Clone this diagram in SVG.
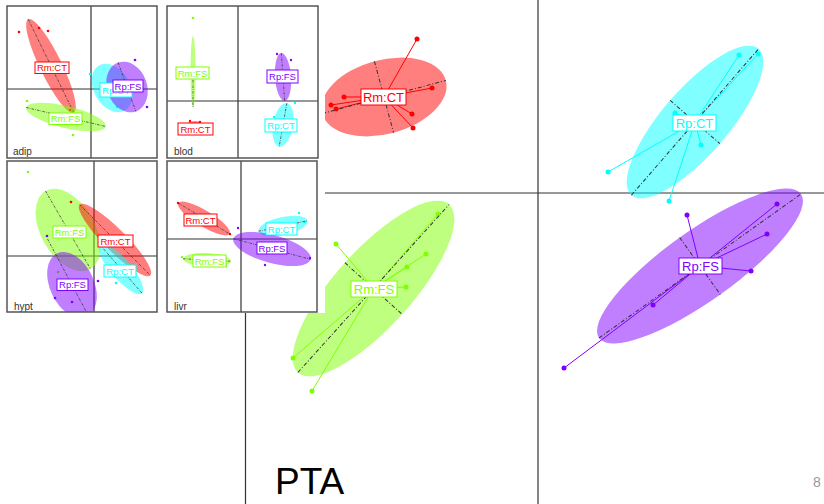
<svg xmlns="http://www.w3.org/2000/svg" width="824" height="504" viewBox="0 0 824 504">
<style>
text{font-family:"Liberation Sans",Arial,sans-serif}
.ax{stroke:#333;stroke-width:1.2;fill:none}
.fr{stroke:#555;stroke-width:1.5;fill:none}
.da{stroke:#333;stroke-width:1;stroke-dasharray:4 2 1 2;fill:none}
.dai{stroke:#333;stroke-width:0.7;stroke-dasharray:2.5 1.2 0.7 1.2;fill:none}
.r .e{fill:#FF0000;fill-opacity:.5}.r .s{stroke:#FF0000}.r .p{fill:#FF0000}.r .b{stroke:#FF0000}.r text{fill:#FF0000}
.g .e{fill:#80FF00;fill-opacity:.5}.g .s{stroke:#80FF00}.g .p{fill:#80FF00}.g .b{stroke:#80FF00}.g text{fill:#80FF00}
.c .e{fill:#00FFFF;fill-opacity:.5}.c .s{stroke:#00FFFF}.c .p{fill:#00FFFF}.c .b{stroke:#00FFFF}.c text{fill:#00FFFF}
.v .e{fill:#8000FF;fill-opacity:.5}.v .s{stroke:#8000FF}.v .p{fill:#8000FF}.v .b{stroke:#8000FF}.v text{fill:#8000FF}
.s{stroke-width:1}
.si{stroke-width:0.7}
.b{fill:#fff;stroke-width:1}
.lm{font-size:13px;text-anchor:middle}
.li{font-size:9.5px;text-anchor:middle}
.pn{font-size:10px;fill:#333}
</style>
<defs>
<clipPath id="c1"><rect x="7" y="6" width="150" height="152"/></clipPath>
<clipPath id="c2"><rect x="167" y="6" width="151" height="152"/></clipPath>
<clipPath id="c3"><rect x="7" y="161" width="150" height="151"/></clipPath>
<clipPath id="c4"><rect x="167" y="161" width="150" height="151"/></clipPath>
</defs>
<rect width="824" height="504" fill="#fff"/>

<!-- main plot -->
<g id="main-axes">
<line class="ax" x1="245.5" y1="0" x2="245.5" y2="504"/>
<line class="ax" x1="538" y1="0" x2="538" y2="504"/>
<line class="ax" x1="245" y1="193" x2="824" y2="193"/>
</g>

<g id="main-RmCT" class="r">
<ellipse class="e" transform="translate(384,97) rotate(-15)" rx="64" ry="37"/>
<g class="s">
<line x1="384" y1="97" x2="417" y2="39"/><line x1="384" y1="97" x2="432" y2="88"/>
<line x1="384" y1="97" x2="344" y2="97"/><line x1="384" y1="97" x2="331" y2="105"/>
<line x1="384" y1="97" x2="336" y2="109"/><line x1="384" y1="97" x2="412" y2="114"/>
<line x1="384" y1="97" x2="413" y2="128"/>
</g>
<g class="p">
<circle cx="417" cy="39" r="2.5"/><circle cx="432" cy="88" r="2.5"/><circle cx="344" cy="97" r="2.5"/>
<circle cx="331" cy="105" r="2.5"/><circle cx="336" cy="109" r="2.5"/><circle cx="412" cy="114" r="2.5"/>
<circle cx="413" cy="128" r="2.5"/>
</g>
<g transform="translate(384,97) rotate(-15)"><line class="da" x1="-64" y1="0" x2="64" y2="0"/><line class="da" x1="0" y1="-37" x2="0" y2="37"/></g>
<rect class="b" x="361" y="89" width="45" height="16"/>
<text class="lm" x="383.5" y="101.5">Rm:CT</text>
</g>

<g id="main-RpCT" class="c">
<ellipse class="e" transform="translate(695,122) rotate(-49)" rx="97" ry="33"/>
<g class="s">
<line x1="695" y1="122" x2="739" y2="55"/><line x1="695" y1="122" x2="758" y2="54"/>
<line x1="695" y1="122" x2="675" y2="113"/><line x1="695" y1="122" x2="701" y2="145"/>
<line x1="695" y1="122" x2="608" y2="172"/><line x1="695" y1="122" x2="669" y2="201"/>
</g>
<g class="p">
<circle cx="739" cy="55" r="2.5"/><circle cx="758" cy="54" r="2.5"/><circle cx="675" cy="113" r="2.5"/>
<circle cx="701" cy="145" r="2.5"/><circle cx="608" cy="172" r="2.5"/><circle cx="669" cy="201" r="2.5"/>
</g>
<g transform="translate(695,122) rotate(-49)"><line class="da" x1="-97" y1="0" x2="97" y2="0"/><line class="da" x1="0" y1="-33" x2="0" y2="33"/></g>
<rect class="b" x="673" y="115" width="43" height="16"/>
<text class="lm" x="694.5" y="127.5">Rp:CT</text>
</g>

<g id="main-RpFS" class="v">
<ellipse class="e" transform="translate(700,266) rotate(-35.5)" rx="124" ry="35"/>
<g class="s">
<line x1="700" y1="266" x2="777" y2="204"/><line x1="700" y1="266" x2="767" y2="234"/>
<line x1="700" y1="266" x2="687" y2="215"/><line x1="700" y1="266" x2="751" y2="271"/>
<line x1="700" y1="266" x2="653" y2="305"/><line x1="700" y1="266" x2="564" y2="368"/>
</g>
<g class="p">
<circle cx="777" cy="204" r="2.5"/><circle cx="767" cy="234" r="2.5"/><circle cx="687" cy="215" r="2.5"/>
<circle cx="751" cy="271" r="2.5"/><circle cx="653" cy="305" r="2.5"/><circle cx="564" cy="368" r="2.5"/>
</g>
<g transform="translate(700,266) rotate(-35.5)"><line class="da" x1="-124" y1="0" x2="124" y2="0"/><line class="da" x1="0" y1="-35" x2="0" y2="35"/></g>
<rect class="b" x="679" y="258" width="43" height="16"/>
<text class="lm" x="700.5" y="270.5">Rp:FS</text>
</g>

<g id="main-RmFS" class="g">
<ellipse class="e" transform="translate(373.5,288.5) rotate(-48)" rx="113" ry="38.5"/>
<g class="s">
<line x1="373.5" y1="288.5" x2="438" y2="214"/><line x1="373.5" y1="288.5" x2="426" y2="254"/>
<line x1="373.5" y1="288.5" x2="407" y2="267"/><line x1="373.5" y1="288.5" x2="406" y2="287"/>
<line x1="373.5" y1="288.5" x2="336" y2="244"/><line x1="373.5" y1="288.5" x2="293" y2="358"/>
<line x1="373.5" y1="288.5" x2="312" y2="391"/>
</g>
<g class="p">
<circle cx="438" cy="214" r="2.5"/><circle cx="426" cy="254" r="2.5"/><circle cx="407" cy="267" r="2.5"/>
<circle cx="406" cy="287" r="2.5"/><circle cx="336" cy="244" r="2.5"/><circle cx="293" cy="358" r="2.5"/>
<circle cx="312" cy="391" r="2.5"/>
</g>
<g transform="translate(373.5,288.5) rotate(-48)"><line class="da" x1="-113" y1="0" x2="113" y2="0"/><line class="da" x1="0" y1="-38.5" x2="0" y2="38.5"/></g>
<rect class="b" x="351" y="281" width="46" height="16"/>
<text class="lm" x="374" y="293.5">Rm:FS</text>
</g>

<!-- inset area -->
<rect x="0" y="0" width="325" height="313" fill="#fff"/>

<g id="panel-adip">
<g clip-path="url(#c1)">
<line class="ax" x1="91" y1="6" x2="91" y2="158"/>
<line class="ax" x1="7" y1="89" x2="157" y2="89"/>
<g class="r">
<ellipse class="e" transform="translate(51,66) rotate(64)" rx="52" ry="11"/>
<g class="si"><line x1="52" y1="67" x2="19" y2="32"/><line x1="52" y1="67" x2="48" y2="31"/><line x1="52" y1="67" x2="39" y2="28"/><line x1="52" y1="67" x2="70" y2="110"/></g>
<g class="p"><circle cx="19" cy="32" r="1.3"/><circle cx="48" cy="31" r="1.3"/><circle cx="39" cy="28" r="1.3"/><circle cx="70" cy="110" r="1.3"/></g>
<line class="dai" transform="translate(51,66) rotate(64)" x1="-52" y1="0" x2="52" y2="0"/>
</g>
<g class="g">
<ellipse class="e" transform="translate(66,117) rotate(13.5)" rx="41" ry="11"/>
<g class="si"><line x1="66" y1="118" x2="27" y2="101"/><line x1="66" y1="118" x2="73" y2="135"/></g>
<g class="p"><circle cx="27" cy="101" r="1.3"/><circle cx="73" cy="135" r="1.3"/></g>
<line class="dai" transform="translate(66,117) rotate(13.5)" x1="-41" y1="0" x2="41" y2="0"/>
</g>
<g class="c">
<ellipse class="e" transform="translate(112,88) rotate(60)" rx="26" ry="18"/>
<g class="si"><line x1="116" y1="90" x2="90" y2="74"/><line x1="116" y1="90" x2="117" y2="107"/></g>
<g class="p"><circle cx="90" cy="74" r="1.3"/><circle cx="117" cy="107" r="1.3"/></g>
</g>
<g class="v">
<ellipse class="e" transform="translate(127,87) rotate(70)" rx="26" ry="20"/>
<g class="si"><line x1="128" y1="86" x2="135" y2="60"/><line x1="128" y1="86" x2="147" y2="107"/></g>
<g class="p"><circle cx="135" cy="60" r="1.3"/><circle cx="147" cy="107" r="1.3"/></g>
<line class="dai" transform="translate(127,87) rotate(70)" x1="-26" y1="0" x2="26" y2="0"/>
</g>
<g class="r"><rect class="b" x="35" y="62" width="34" height="11.5"/><text class="li" x="52" y="71.3">Rm:CT</text></g>
<g class="g"><rect class="b" x="49" y="113" width="33" height="11.5"/><text class="li" x="65.5" y="122.3">Rm:FS</text></g>
<g class="c"><rect class="b" x="100" y="83" width="32" height="14"/><text class="li" x="116" y="93.5">Rp:CT</text></g>
<g class="v"><rect class="b" x="113" y="80" width="30" height="12"/><text class="li" x="128" y="89.5">Rp:FS</text></g>
<text class="pn" x="13" y="155">adip</text>
</g>
<rect class="fr" x="7" y="6" width="150" height="152"/>
</g>

<g id="panel-blod">
<g clip-path="url(#c2)">
<line class="ax" x1="238" y1="6" x2="238" y2="158"/>
<line class="ax" x1="167" y1="101" x2="318" y2="101"/>
<g class="g">
<ellipse class="e" cx="193" cy="72" rx="2.5" ry="36"/>
<g class="si"><line x1="193" y1="73" x2="193" y2="18"/></g>
<g class="p"><circle cx="193" cy="18" r="1.3"/></g>
<line class="dai" x1="193" y1="80" x2="193" y2="108"/>
</g>
<g class="r">
<ellipse class="e" cx="195" cy="127" rx="10" ry="6"/>
<g class="p"><circle cx="190" cy="121" r="1.2"/><circle cx="200" cy="122" r="1.2"/><circle cx="203" cy="133" r="1.2"/></g>
</g>
<g class="v">
<ellipse class="e" transform="translate(283,77) rotate(-4)" rx="8" ry="24"/>
<g class="si"><line x1="283" y1="77" x2="277" y2="54"/><line x1="283" y1="77" x2="291" y2="60"/></g>
<g class="p"><circle cx="277" cy="54" r="1.2"/><circle cx="291" cy="60" r="1.2"/></g>
<line class="dai" transform="translate(283,77) rotate(-4)" x1="0" y1="-24" x2="0" y2="24"/>
</g>
<g class="c">
<ellipse class="e" transform="translate(283,125) rotate(10)" rx="10" ry="22"/>
<g class="si"><line x1="283" y1="125" x2="295" y2="103"/><line x1="283" y1="125" x2="274" y2="117"/></g>
<g class="p"><circle cx="295" cy="103" r="1.2"/><circle cx="274" cy="117" r="1.2"/></g>
<line class="dai" transform="translate(283,125) rotate(10)" x1="0" y1="-22" x2="0" y2="22"/>
</g>
<g class="g"><rect class="b" x="176" y="67" width="33" height="12"/><text class="li" x="192.5" y="76.5">Rm:FS</text></g>
<g class="r"><rect class="b" x="178" y="123" width="35" height="12"/><text class="li" x="195.5" y="132.5">Rm:CT</text></g>
<g class="v"><rect class="b" x="267" y="70" width="31" height="13"/><text class="li" x="282.5" y="80">Rp:FS</text></g>
<g class="c"><rect class="b" x="265" y="119" width="32" height="13"/><text class="li" x="281" y="129">Rp:CT</text></g>
<text class="pn" x="174" y="155">blod</text>
</g>
<rect class="fr" x="167" y="6" width="151" height="152"/>
</g>

<g id="panel-hypt">
<g clip-path="url(#c3)">
<line class="ax" x1="94" y1="161" x2="94" y2="312"/>
<line class="ax" x1="7" y1="256" x2="157" y2="256"/>
<g class="g">
<ellipse class="e" transform="translate(68,230) rotate(60)" rx="45" ry="27"/>
<g class="si"><line x1="69" y1="232" x2="28" y2="172"/><line x1="69" y1="232" x2="58" y2="272"/></g>
<g class="p"><circle cx="28" cy="172" r="1.3"/><circle cx="58" cy="272" r="1.3"/></g>
<line class="dai" transform="translate(68,230) rotate(60)" x1="-45" y1="0" x2="45" y2="0"/>
</g>
<g class="r">
<ellipse class="e" transform="translate(115,240) rotate(45)" rx="50" ry="11"/>
<g class="si"><line x1="115" y1="241" x2="71" y2="202"/></g>
<g class="p"><circle cx="71" cy="202" r="1.3"/></g>
<line class="dai" transform="translate(115,240) rotate(45)" x1="-50" y1="0" x2="50" y2="0"/>
</g>
<g class="c">
<ellipse class="e" transform="translate(121,269) rotate(49)" rx="32" ry="10"/>
<g class="si"><line x1="120" y1="271" x2="116" y2="283"/></g>
<g class="p"><circle cx="116" cy="283" r="1.3"/></g>
<line class="dai" transform="translate(121,269) rotate(49)" x1="-32" y1="0" x2="32" y2="0"/>
</g>
<g class="v">
<ellipse class="e" transform="translate(72,285) rotate(65)" rx="35" ry="22"/>
<g class="si"><line x1="72" y1="284" x2="55" y2="298"/><line x1="72" y1="284" x2="72" y2="302"/><line x1="72" y1="284" x2="98" y2="281"/><line x1="72" y1="284" x2="47" y2="236"/></g>
<g class="p"><circle cx="55" cy="298" r="1.3"/><circle cx="72" cy="302" r="1.3"/><circle cx="98" cy="281" r="1.3"/><circle cx="47" cy="236" r="1.3"/></g>
<line class="dai" transform="translate(72,285) rotate(62)" x1="-52" y1="0" x2="36" y2="0"/>
</g>
<g class="g"><rect class="b" x="53" y="226" width="33" height="12"/><text class="li" x="69.5" y="235.5">Rm:FS</text></g>
<g class="r"><rect class="b" x="98" y="235" width="35" height="12"/><text class="li" x="115.5" y="244.5">Rm:CT</text></g>
<g class="c"><rect class="b" x="104" y="265" width="32" height="12"/><text class="li" x="120" y="274.5">Rp:CT</text></g>
<g class="v"><rect class="b" x="57" y="279" width="31" height="11.5"/><text class="li" x="72.5" y="288">Rp:FS</text></g>
<text class="pn" x="14" y="310">hypt</text>
</g>
<rect class="fr" x="7" y="161" width="150" height="151"/>
</g>

<g id="panel-livr">
<g clip-path="url(#c4)">
<line class="ax" x1="241" y1="161" x2="241" y2="312"/>
<line class="ax" x1="167" y1="239" x2="317" y2="239"/>
<g class="r">
<ellipse class="e" transform="translate(204,218.5) rotate(31)" rx="30" ry="8"/>
<g class="si"><line x1="200" y1="220" x2="178" y2="203"/><line x1="200" y1="220" x2="230" y2="234"/></g>
<g class="p"><circle cx="178" cy="203" r="1.2"/><circle cx="230" cy="234" r="1.2"/></g>
<line class="dai" transform="translate(204,218.5) rotate(31)" x1="-30" y1="0" x2="30" y2="0"/>
</g>
<g class="g">
<ellipse class="e" transform="translate(207,260) rotate(3)" rx="24" ry="7"/>
<g class="si"><line x1="209" y1="261" x2="182" y2="257"/><line x1="209" y1="261" x2="226" y2="266"/></g>
<g class="p"><circle cx="182" cy="257" r="1.2"/><circle cx="226" cy="266" r="1.2"/></g>
<line class="dai" transform="translate(207,260) rotate(3)" x1="-24" y1="0" x2="24" y2="0"/>
</g>
<g class="c">
<ellipse class="e" transform="translate(283,226) rotate(-12)" rx="25" ry="9"/>
<g class="si"><line x1="282" y1="229" x2="299" y2="213"/><line x1="282" y1="229" x2="305" y2="222"/></g>
<g class="p"><circle cx="299" cy="213" r="1.2"/><circle cx="305" cy="222" r="1.2"/></g>
<line class="dai" transform="translate(283,226) rotate(-12)" x1="-25" y1="0" x2="25" y2="0"/>
</g>
<g class="v">
<ellipse class="e" transform="translate(272,249) rotate(15)" rx="40" ry="14"/>
<g class="si"><line x1="272" y1="248" x2="238" y2="228"/><line x1="272" y1="248" x2="265" y2="265"/><line x1="272" y1="248" x2="310" y2="258"/></g>
<g class="p"><circle cx="238" cy="228" r="1.2"/><circle cx="265" cy="265" r="1.2"/><circle cx="310" cy="258" r="1.2"/></g>
<line class="dai" transform="translate(272,249) rotate(15)" x1="-40" y1="0" x2="40" y2="0"/>
</g>
<g class="r"><rect class="b" x="184" y="214" width="33" height="12"/><text class="li" x="200.5" y="223.5">Rm:CT</text></g>
<g class="g"><rect class="b" x="193" y="255" width="33" height="12"/><text class="li" x="209.5" y="264.5">Rm:FS</text></g>
<g class="c"><rect class="b" x="266" y="223" width="31" height="12"/><text class="li" x="281.5" y="232.5">Rp:CT</text></g>
<g class="v"><rect class="b" x="257" y="242" width="30" height="12"/><text class="li" x="272" y="251.5">Rp:FS</text></g>
<text class="pn" x="174" y="310">livr</text>
</g>
<rect class="fr" x="167" y="161" width="150" height="151"/>
</g>

<text x="275" y="494" font-size="37" fill="#000">PTA</text>
<text x="813" y="487" font-size="14" fill="#999">8</text>
</svg>
